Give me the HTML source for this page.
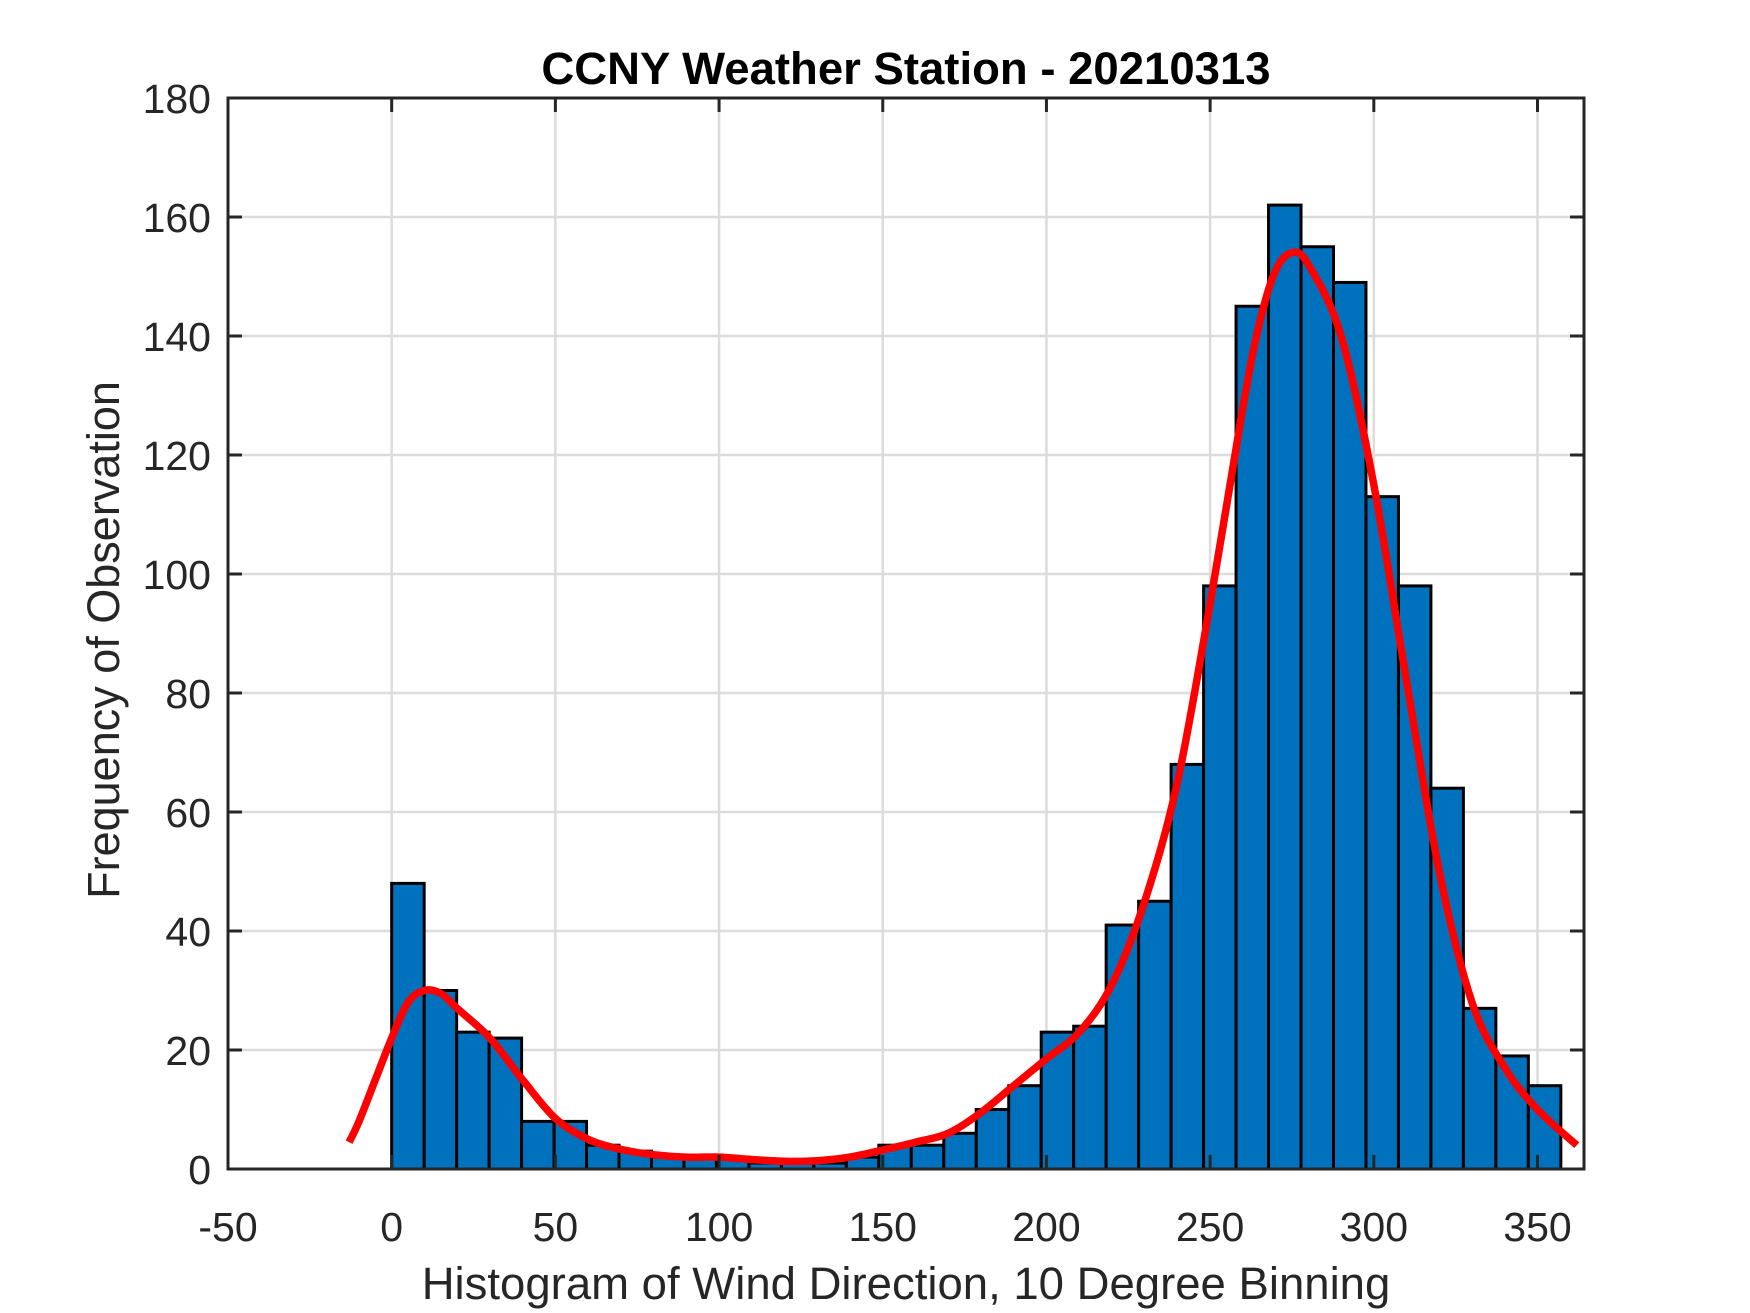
<!DOCTYPE html>
<html><head><meta charset="utf-8"><style>
html,body{margin:0;padding:0;background:#fff;}
svg{display:block;}
text{font-family:"Liberation Sans",Arial,sans-serif;fill:#262626;}
</style></head><body>
<svg id="chart" width="1750" height="1313" viewBox="0 0 1750 1313" xmlns="http://www.w3.org/2000/svg">
<rect x="0" y="0" width="1750" height="1313" fill="#fff"/>
<g id="grid"></g>
<g id="bars"></g>
<g id="fit"></g>
<g id="axes"></g>
<text x="906" y="84" text-anchor="middle" font-size="45.5" font-weight="bold" style="fill:#000">CCNY Weather Station - 20210313</text>
<text x="906" y="1299" text-anchor="middle" font-size="45.5">Histogram of Wind Direction, 10 Degree Binning</text>
<text x="0" y="0" transform="translate(119,640) rotate(-90)" text-anchor="middle" font-size="45">Frequency of Observation</text>
</svg>
<script>
const binEdgesStart = [0,9.92,19.84,29.76,39.68,49.6,59.52,69.44,79.36,89.28,99.2,109.12,119.04,128.96,138.88,148.8,158.72,168.64,178.56,188.48,198.4,208.32,218.24,228.16,238.08,248,257.92,267.84,277.76,287.68,297.6,307.52,317.44,327.36,337.28,347.2];
const binCounts = [48,30,23,22,8,8,4,3,2,2,2,1,1,1,2,4,4,6,10,14,23,24,41,45,68,98,145,162,155,149,113,98,64,27,19,14];
const binWidth = 9.92;
const fitX = [-13,-10,-5,0,5,10,15,20,30,40,50,60,70,80,90,100,110,120,130,140,150,160,170,180,190,200,210,220,230,240,250,260,265,270,275,280,290,300,310,320,330,340,350,362];
const fitY = [4.5,8,15,22,28,30,29.5,27,22,15,8.5,5,3.3,2.4,2,2,1.6,1.3,1.4,2,3.2,4.5,6,9.5,14,18.5,23,31,45,65,95,128,142,151,154,152,140,115,82,50,28,17,10,4];
const xTicks = [-50,0,50,100,150,200,250,300,350];
const yTicks = [0,20,40,60,80,100,120,140,160,180];

const L=228,R=1584,T=98,B=1169,XMIN=-50,XMAX=364.2,YMIN=0,YMAX=180;
const NS="http://www.w3.org/2000/svg";
function xs(v){return L+(v-XMIN)/(XMAX-XMIN)*(R-L);}
function ys(v){return B-(v-YMIN)/(YMAX-YMIN)*(B-T);}
function mk(tag,attrs,parent){const e=document.createElementNS(NS,tag);for(const k in attrs)e.setAttribute(k,attrs[k]);parent.appendChild(e);return e;}
const grid=document.getElementById('grid'),bars=document.getElementById('bars'),fit=document.getElementById('fit'),axes=document.getElementById('axes');

xTicks.forEach(v=>{
  const g=mk('line',{x1:xs(v),x2:xs(v),y1:T,y2:B,stroke:'#dcdcdc','stroke-width':2.5},grid);
  
  
});
yTicks.forEach(v=>{
  const g=mk('line',{x1:L,x2:R,y1:ys(v),y2:ys(v),stroke:'#dcdcdc','stroke-width':2.5},grid);
  
  
});

binCounts.forEach((c,i)=>{
  const x0=xs(binEdgesStart[i]),x1=xs(binEdgesStart[i]+binWidth);
  const r=mk('rect',{x:x0,y:ys(c),width:x1-x0,height:ys(0)-ys(c),fill:'#0072bd',stroke:'#000','stroke-width':3},bars);
  
  
});

const P=fitX.map((x,i)=>[xs(x),ys(fitY[i])]);
let d='M'+P[0][0].toFixed(1)+','+P[0][1].toFixed(1);
for(let i=0;i<P.length-1;i++){
  const p0=P[Math.max(i-1,0)],p1=P[i],p2=P[i+1],p3=P[Math.min(i+2,P.length-1)];
  const c1=[p1[0]+(p2[0]-p0[0])/6,p1[1]+(p2[1]-p0[1])/6];
  const c2=[p2[0]-(p3[0]-p1[0])/6,p2[1]-(p3[1]-p1[1])/6];
  d+='C'+c1[0].toFixed(1)+','+c1[1].toFixed(1)+' '+c2[0].toFixed(1)+','+c2[1].toFixed(1)+' '+p2[0].toFixed(1)+','+p2[1].toFixed(1);
}
const p=mk('path',{d:d,fill:'none',stroke:'#ff0000','stroke-width':7.5,'stroke-linejoin':'round'},fit);



const box=mk('rect',{x:L,y:T,width:R-L,height:B-T,fill:'none',stroke:'#262626','stroke-width':3},axes);


xTicks.forEach(v=>{
  const x=xs(v);
  const t1=mk('line',{x1:x,x2:x,y1:B,y2:B-14,stroke:'#262626','stroke-width':3},axes);
  
  
  const t2=mk('line',{x1:x,x2:x,y1:T,y2:T+14,stroke:'#262626','stroke-width':3},axes);
  
  
  const lb=mk('text',{x:x,y:1241,'text-anchor':'middle','font-size':41},axes);
  lb.textContent=v;
  
  
});
yTicks.forEach(v=>{
  const y=ys(v);
  const t1=mk('line',{x1:L,x2:L+14,y1:y,y2:y,stroke:'#262626','stroke-width':3},axes);
  
  
  const t2=mk('line',{x1:R,x2:R-14,y1:y,y2:y,stroke:'#262626','stroke-width':3},axes);
  
  
  const lb=mk('text',{x:211,y:y+15,'text-anchor':'end','font-size':41},axes);
  lb.textContent=v;
  
  
});
</script>
</body></html>
